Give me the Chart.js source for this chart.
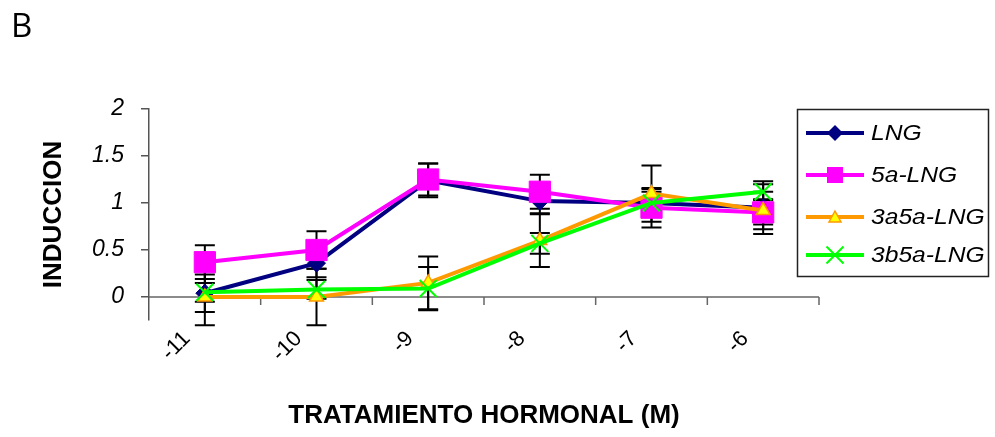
<!DOCTYPE html>
<html>
<head>
<meta charset="utf-8">
<script src="https://cdn.jsdelivr.net/npm/chart.js@4.4.1/dist/chart.umd.min.js"></script>
<style>
html,body{margin:0;padding:0;background:#fff;}
#wrap{position:relative;width:995px;height:437px;}
</style>
</head>
<body>
<div id="wrap"><canvas id="c" width="995" height="437"></canvas></div>
<script>
const panelLabel = 'B';
const categories = ['-11', '-10', '-9', '-8', '-7', '-6'];
const yTicks = [0, 0.5, 1, 1.5, 2];
const seriesNames = ['LNG', '5a-LNG', '3a5a-LNG', '3b5a-LNG'];
const lngValues = [0.04, 0.36, 1.24, 1.02, 1.00, 0.95];
const lngErrors = [0.20, 0.15, 0.18, 0.13, 0.12, 0.28];
const a5Values = [0.37, 0.50, 1.25, 1.12, 0.95, 0.90];
const a5Errors = [0.18, 0.20, 0.17, 0.18, 0.21, 0.13];
const a3a5Values = [0.00, 0.00, 0.15, 0.60, 1.10, 0.92];
const a3a5Errors = [0.30, 0.30, 0.28, 0.28, 0.30, 0.20];
const b3a5Values = [0.05, 0.08, 0.09, 0.57, 1.00, 1.12];
const b3a5Errors = [0.10, 0.10, 0.23, 0.11, 0.15, 0.08];
const yTitle = 'INDUCCION';
const xTitle = 'TRATAMIENTO HORMONAL (M)';

const errorSets = [lngErrors, a5Errors, a3a5Errors, b3a5Errors];

const datasets = [
  {label: seriesNames[0], data: lngValues, borderColor: '#000080', backgroundColor: '#000080',
   pointStyle: 'rectRot', pointRadius: 9, pointBorderWidth: 1, pointBorderColor: '#000080', order: 4},
  {label: seriesNames[1], data: a5Values, borderColor: '#FF00FF', backgroundColor: '#FF00FF',
   pointStyle: 'rect', pointRadius: 15, pointBorderWidth: 1, pointBorderColor: '#FF00FF', order: 3},
  {label: seriesNames[2], data: a3a5Values, borderColor: '#FF9900', backgroundColor: '#FFFF00',
   pointStyle: 'triangle', pointRadius: 8, pointBorderWidth: 1.5, pointBorderColor: '#FF9900', order: 2},
  {label: seriesNames[3], data: b3a5Values, borderColor: '#00FF00', backgroundColor: '#00FF00',
   pointStyle: 'crossRot', pointRadius: 12, pointBorderWidth: 2, pointBorderColor: '#00FF00', order: 1}
].map(d => Object.assign({borderWidth: 4, tension: 0, fill: false, clip: false}, d));

const errorBarPlugin = {
  id: 'errorBars',
  beforeDatasetsDraw(chart) {
    const ctx = chart.ctx, xs = chart.scales.x, ys = chart.scales.y;
    ctx.save();
    ctx.strokeStyle = '#000';
    ctx.lineWidth = 2;
    chart.data.datasets.forEach((ds, di) => {
      const errs = errorSets[di];
      ds.data.forEach((v, i) => {
        const x = xs.getPixelForValue(i);
        const yTop = ys.getPixelForValue(v + errs[i]);
        const yBot = ys.getPixelForValue(v - errs[i]);
        ctx.beginPath();
        ctx.moveTo(x, yTop); ctx.lineTo(x, yBot);
        ctx.moveTo(x - 10, yTop); ctx.lineTo(x + 10, yTop);
        ctx.moveTo(x - 10, yBot); ctx.lineTo(x + 10, yBot);
        ctx.stroke();
      });
    });
    ctx.restore();
  }
};

const zeroAxisPlugin = {
  id: 'zeroAxis',
  beforeDatasetsDraw(chart) {
    const ctx = chart.ctx, xs = chart.scales.x, ys = chart.scales.y, ca = chart.chartArea;
    const y0 = ys.getPixelForValue(0);
    ctx.save();
    ctx.strokeStyle = '#666';
    ctx.lineWidth = 1.5;
    ctx.beginPath();
    ctx.moveTo(ca.left, y0); ctx.lineTo(ca.right, y0);
    const n = categories.length;
    const step = (xs.getPixelForValue(n - 1) - xs.getPixelForValue(0)) / (n - 1);
    for (let i = 0; i < n; i++) {
      const bx = xs.getPixelForValue(i) + step / 2;
      ctx.moveTo(bx, y0); ctx.lineTo(bx, y0 + 8);
    }
    ctx.stroke();
    ctx.restore();
  }
};

function drawMarker(ctx, style, x, y, fill, stroke) {
  ctx.save();
  ctx.fillStyle = fill; ctx.strokeStyle = stroke;
  ctx.beginPath();
  if (style === 'rectRot') {
    const r = 8;
    ctx.moveTo(x, y - r); ctx.lineTo(x + r, y); ctx.lineTo(x, y + r); ctx.lineTo(x - r, y); ctx.closePath();
    ctx.fill();
  } else if (style === 'rect') {
    ctx.rect(x - 8, y - 8, 16, 16); ctx.fill();
  } else if (style === 'triangle') {
    ctx.lineWidth = 1.5;
    ctx.moveTo(x, y - 6); ctx.lineTo(x + 6, y + 5); ctx.lineTo(x - 6, y + 5); ctx.closePath();
    ctx.fill(); ctx.stroke();
  } else if (style === 'crossRot') {
    ctx.lineWidth = 2;
    ctx.moveTo(x - 8.5, y - 8.5); ctx.lineTo(x + 8.5, y + 8.5);
    ctx.moveTo(x + 8.5, y - 8.5); ctx.lineTo(x - 8.5, y + 8.5);
    ctx.stroke();
  }
  ctx.restore();
}

const legendPlugin = {
  id: 'boxLegend',
  afterDraw(chart) {
    const ctx = chart.ctx;
    ctx.save();
    ctx.strokeStyle = '#222';
    ctx.lineWidth = 1.5;
    ctx.strokeRect(797.5, 109.5, 191, 167);
    const rows = [133, 175, 217, 255];
    chart.data.datasets.forEach((ds, i) => {
      const y = rows[i];
      ctx.strokeStyle = ds.borderColor;
      ctx.lineWidth = 4;
      ctx.beginPath(); ctx.moveTo(806, y); ctx.lineTo(864, y); ctx.stroke();
      drawMarker(ctx, ds.pointStyle, 835, y, ds.backgroundColor, ds.pointBorderColor);
      ctx.save();
      ctx.fillStyle = '#000';
      ctx.font = 'italic 22px "Liberation Sans", Arial, sans-serif';
      ctx.textBaseline = 'middle';
      ctx.textAlign = 'left';
      ctx.translate(871, y + 1);
      ctx.scale(1.12, 1);
      ctx.fillText(ds.label, 0, 0);
      ctx.restore();
    });
    ctx.font = '33px "Open Sans", "Noto Sans", sans-serif';
    ctx.fillStyle = '#000';
    ctx.textBaseline = 'alphabetic';
    ctx.fillText(panelLabel, 11, 37);
    ctx.restore();
  }
};

new Chart(document.getElementById('c'), {
  type: 'line',
  data: {labels: categories, datasets: datasets},
  plugins: [zeroAxisPlugin, errorBarPlugin, legendPlugin],
  options: {
    responsive: false,
    animation: false,
    devicePixelRatio: 1,
    layout: {padding: {left: 0, right: 176, top: 109, bottom: 0}},
    plugins: {legend: {display: false}, tooltip: {enabled: false}, title: {display: false}},
    scales: {
      x: {
        type: 'category',
        offset: true,
        grid: {display: false},
        border: {display: false},
        ticks: {
          color: '#000', minRotation: 45, maxRotation: 45, padding: -2, labelOffset: -18,
          font: {family: '"Liberation Sans", Arial, sans-serif', size: 22}
        },
        title: {
          display: true, text: xTitle, color: '#000',
          font: {family: '"Liberation Sans", Arial, sans-serif', size: 26, weight: 'bold'},
          padding: {top: 0, bottom: 6}
        },
        afterFit(s) { s.height = 117; }
      },
      y: {
        min: -0.245, max: 2,
        afterBuildTicks(s) { s.ticks = yTicks.map(v => ({value: v})); },
        grid: {drawOnChartArea: false, drawTicks: true, tickLength: 8, color: '#555', lineWidth: 1.5},
        border: {display: true, color: '#555', width: 1.5},
        ticks: {
          color: '#000', padding: 17,
          font: {family: '"Liberation Sans", Arial, sans-serif', size: 23, style: 'italic'},
          callback: v => String(v)
        },
        title: {
          display: true, text: yTitle, color: '#000',
          font: {family: '"Liberation Sans", Arial, sans-serif', size: 26, weight: 'bold'},
          padding: {top: 38, bottom: 0}
        },
        afterFit(s) { s.width = 149; }
      }
    }
  }
});
</script>
</body>
</html>
